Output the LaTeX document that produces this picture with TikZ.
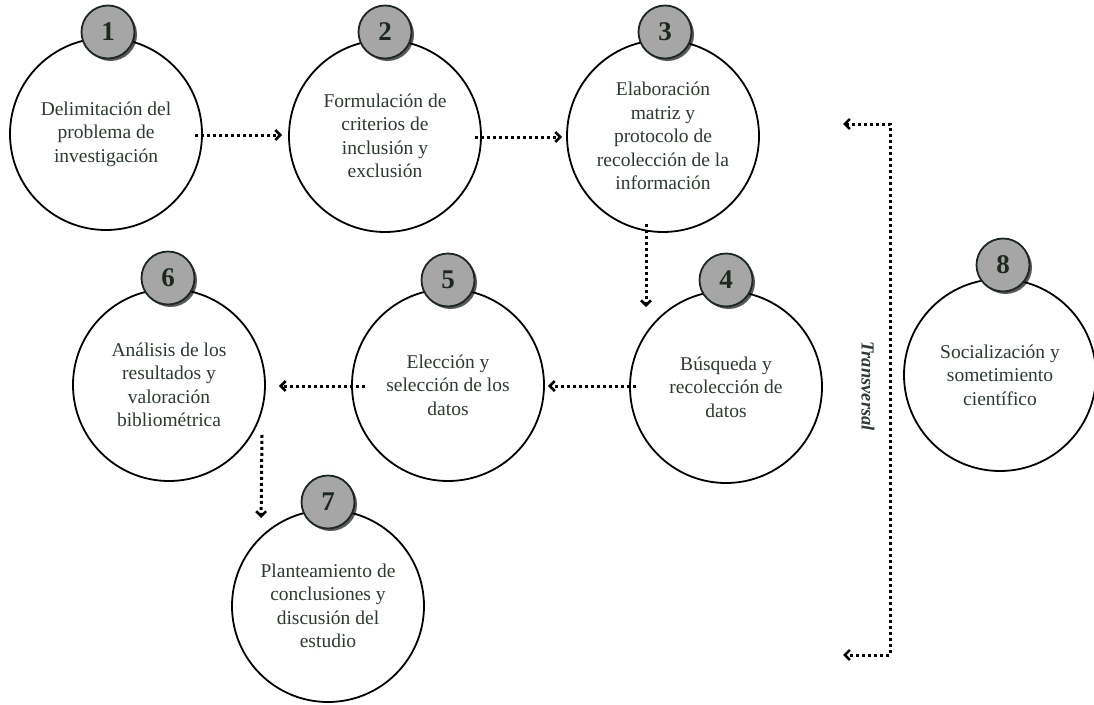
\documentclass[tikz,border=0pt]{standalone}
\usepackage{fontspec}
\setmainfont{Liberation Serif}
\usetikzlibrary{arrows.meta,calc,shadows}

\definecolor{txtc}{HTML}{2E3A30}
\definecolor{badgefill}{HTML}{A6A6A6}
\definecolor{badgeline}{HTML}{1C281D}

\tikzset{
  stage/.style={circle, draw=black, line width=1.8pt, fill=white,
    minimum size=192pt, inner sep=0pt, align=center, text=txtc,
    font=\fontsize{19.5}{23.5}\selectfont},
  badge/.style={circle, draw=badgeline, line width=1.8pt, fill=badgefill,
    minimum size=53pt, inner sep=0pt, text=badgeline,
    font=\fontsize{27}{27}\selectfont\bfseries,
    drop shadow={shadow xshift=2.5pt, shadow yshift=-2.5pt, fill=black, opacity=0.65}},
  barb/.tip={Straight Barb[length=5pt, width=10pt, line width=2.6pt]},
  flow/.style={line width=3pt, dash pattern=on 3pt off 3pt, -barb},
  bothflow/.style={line width=3pt, dash pattern=on 3pt off 3pt, barb-barb},
}

\begin{document}
\begin{tikzpicture}[x=1pt, y=-1pt]
  \useasboundingbox (0,0) rectangle (1094,704);

  % stages
  \node[stage] (c1) at (106,134) {Delimitación del\\problema de\\investigación};
  \node[stage] (c2) at (385,136) {Formulación de\\criterios de\\inclusión y\\exclusión};
  \node[stage] (c3) at (663,136) {Elaboración\\matriz y\\protocolo de\\recolección de la\\información};
  \node[stage] (c4) at (726,387) {Búsqueda y\\recolección de\\datos};
  \node[stage] (c5) at (448,385) {Elección y\\selección de los\\datos};
  \node[stage] (c6) at (169,385) {Análisis de los\\resultados y\\valoración\\bibliométrica};
  \node[stage] (c7) at (328,606) {Planteamiento de\\conclusiones y\\discusión del\\estudio};
  \node[stage] (c8) at (1000,375) {Socialización y\\sometimiento\\científico};

  % numbered badges
  \node[badge] (b1) at (108,32) {1};
  \node[badge] (b2) at (385,32) {2};
  \node[badge] (b3) at (665,32) {3};
  \node[badge] (b4) at (726,280) {4};
  \node[badge] (b5) at (448,280) {5};
  \node[badge] (b6) at (168,278) {6};
  \node[badge] (b7) at (328,502) {7};
  \node[badge] (b8) at (1003,265) {8};

  % sequence
  \draw[flow] ($(c1.east)+(-8,1)$) -- ($(c2.west)+(-6,-1)$);
  \draw[flow] ($(c2.east)+(-7,1)$) -- ($(c3.west)+(-4,1)$);
  \draw[flow] ($(c3.south)+(-17,-9)$) -- ($(c4.north)+(-80,17)$);
  \draw[flow] ($(c4.west)+(7,-1)$) -- ($(c5.east)+(3,1)$);
  \draw[flow] ($(c5.west)+(14,1)$) -- ($(c6.east)+(13,1)$);
  \draw[flow] ($(c6.south)+(93,-47)$) -- ($(c7.west)+(30,-88)$);

  % transversal bracket
  \coordinate (ttop) at (843,124);
  \coordinate (tbot) at (843,655);
  \draw[bothflow] (ttop) -- ($(ttop)+(47,0)$) -- ($(tbot)+(47,0)$) -- (tbot);
  \node[rotate=-90, text=txtc, font=\fontsize{18.5}{20}\selectfont\bfseries\itshape] (tl) at (868,386) {Transversal};
\end{tikzpicture}
\end{document}
